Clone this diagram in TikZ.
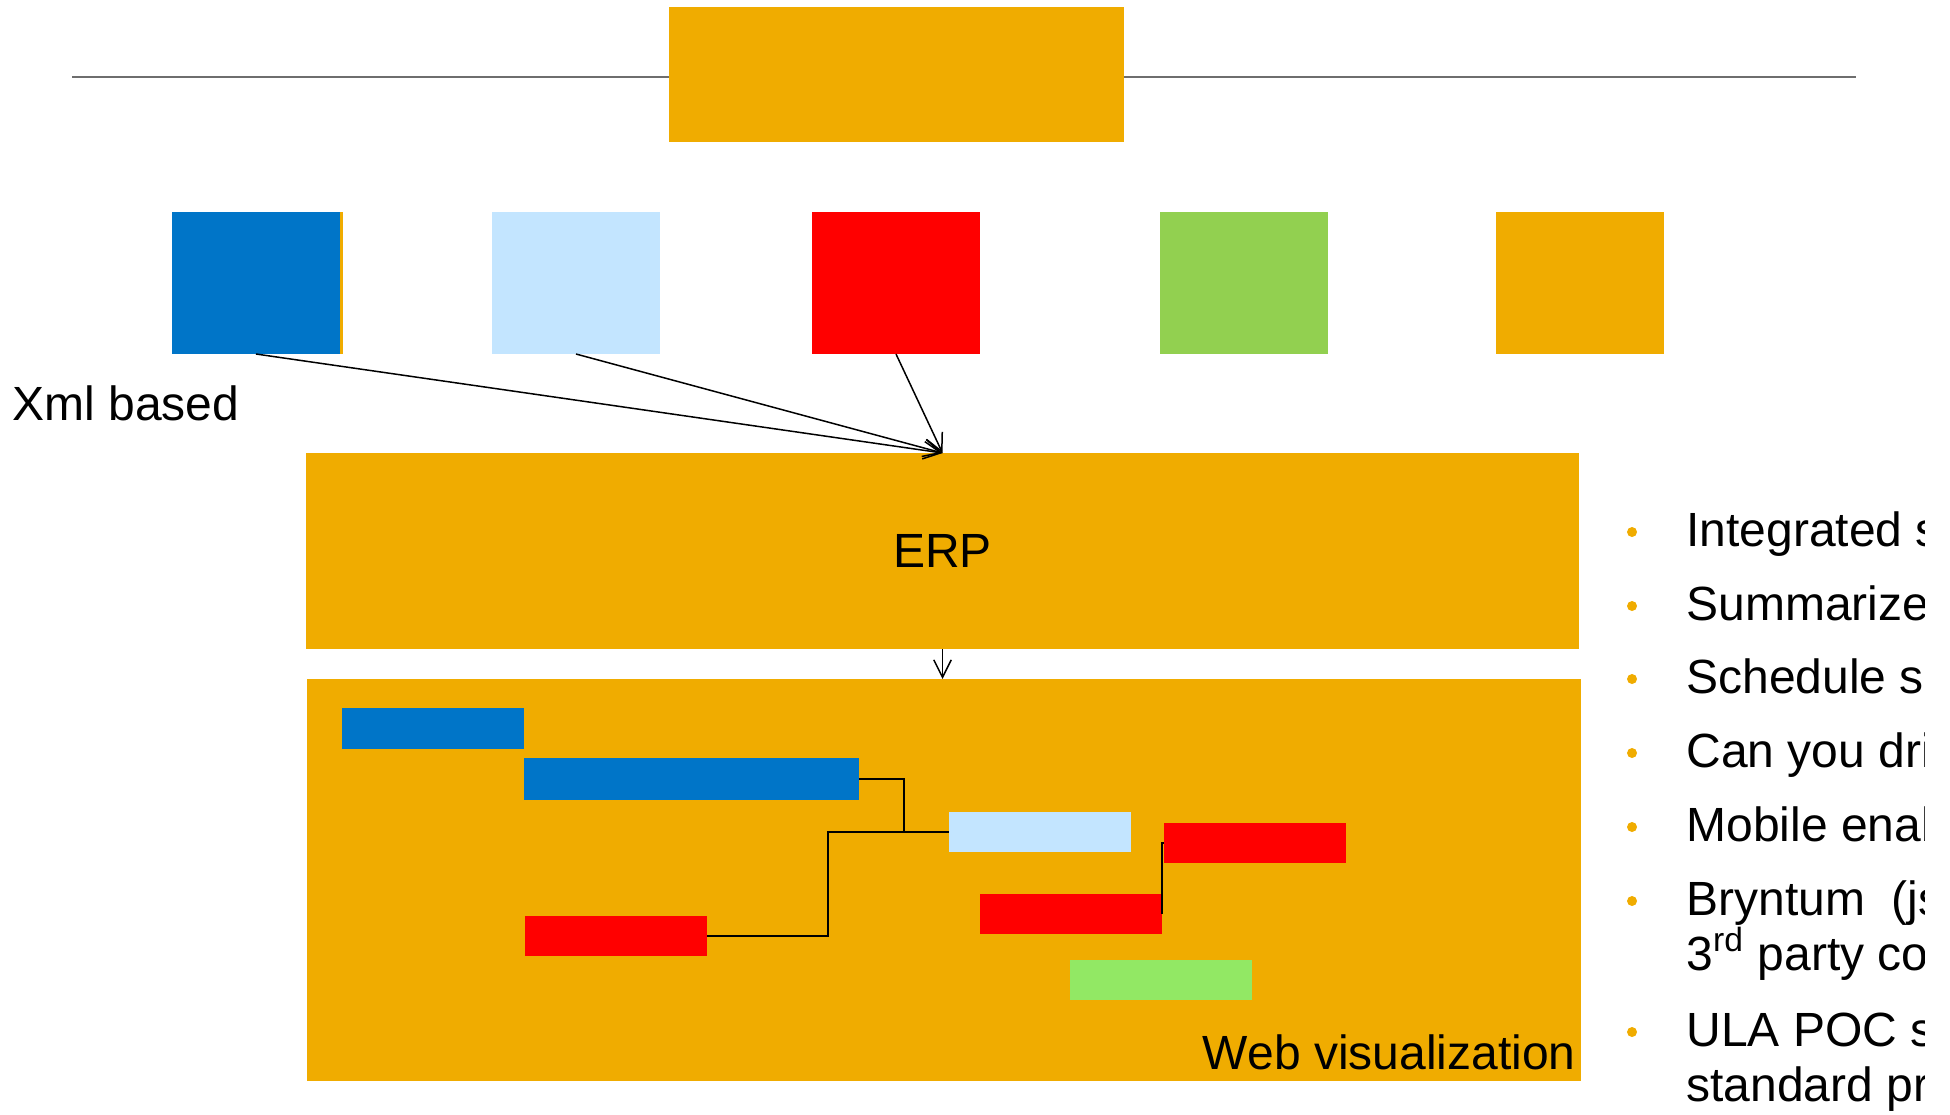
\documentclass[tikz,border=0pt]{standalone}
\usepackage{fontspec}
\setmainfont{Liberation Sans}
\usetikzlibrary{arrows.meta}

\definecolor{slideorange}{RGB}{240,172,0}
\definecolor{slideblue}{RGB}{0,117,200}
\definecolor{paleblue}{RGB}{195,229,255}
\definecolor{slidered}{RGB}{255,0,0}
\definecolor{slidegreen}{RGB}{146,208,80}
\definecolor{bargreen}{RGB}{146,232,100}
\definecolor{rulegray}{RGB}{110,110,110}

\begin{document}
\begin{tikzpicture}[x=0.4pt, y=-0.4pt,
        box/.style 2 args={rectangle, anchor=north west, inner sep=0pt, outer sep=0pt,
            minimum width=#1*0.4pt, minimum height=#2*0.4pt},
        feed/.style={line width=0.6pt, -{Straight Barb[length=7pt,width=7pt]}},
        link/.style={line width=0.6pt},
        font=\fontsize{19.2}{22}\selectfont]

    \useasboundingbox (0,0) rectangle (1950,1114);

    % --- 上部の線と見出しボックス ---
    \draw[rulegray, line width=0.8pt] (72,77) -- (1856,77);
    \node[box={455}{135}, fill=slideorange] (head) at (669,7) {};

    % --- データ元の四角 ---
    \fill[slideorange] (175,212) rectangle (343,354);
    \foreach \s/\x/\c in {src1/172/slideblue, src2/492/paleblue, src3/812/slidered,
                          src4/1160/slidegreen, src5/1496/slideorange} {
        \node[box={168}{142}, fill=\c] (\s) at (\x,212) {};
    }
    \node[anchor=base west, inner sep=0pt] (xml) at (12,420) {Xml based};

    % --- ERP と矢印 ---
    \node[box={1273}{196}, fill=slideorange] (erp) at (306,453) {ERP};
    \foreach \s in {src1, src2, src3} {
        \draw[feed] (\s.south) -- (erp.north);
    }
    \node[box={1274}{402}, fill=slideorange] (web) at (307,679) {};
    \draw[feed] (erp.south) -- (erp.south |- web.north);
    \node[anchor=base east, inner sep=0pt] (weblabel) at (1576,1069) {Web visualization};

    % --- ガントのバー ---
    \foreach \s/\x/\y/\w/\h/\c in {bar1/342/708/182/41/slideblue, bar2/524/758/335/42/slideblue,
                                   bar3/949/812/182/40/paleblue, bar4/1164/823/182/40/slidered,
                                   bar5/980/894/182/40/slidered, bar6/525/916/182/40/slidered,
                                   bar7/1070/960/182/40/bargreen} {
        \node[box={\w}{\h}, fill=\c] (\s) at (\x,\y) {};
    }
    \draw[link] (bar2.east) -- ++(45,0) |- (bar3.west);
    \draw[link] (bar6.east) -- ++(121,0) |- (bar3.west);
    \draw[link] (bar5.east) |- (bar4.west);

    % --- 右側の箇条書き(右端で切れる) ---
    \begin{scope}
        \clip (1600,480) rectangle (1924,1114);
        \foreach \y in {532, 606, 679, 753, 827, 901, 1032} {
            \fill[slideorange] (1632,\y) circle (2pt);
        }
        \foreach \s/\y/\t in {item1/546/Integrated s, item2/620/Summarize, item3/693/Schedule s,
                              item4/767/Can you dri, item5/841/Mobile enab,
                              item6/915/Bryntum\hspace{0.55em}(js, item7/970/3\textsuperscript{rd} party co,
                              item8/1046/ULA POC s, item9/1101/standard pr} {
            \node[anchor=base west, inner sep=0pt] (\s) at (1686,\y) {\t};
        }
    \end{scope}

\end{tikzpicture}
\end{document}
